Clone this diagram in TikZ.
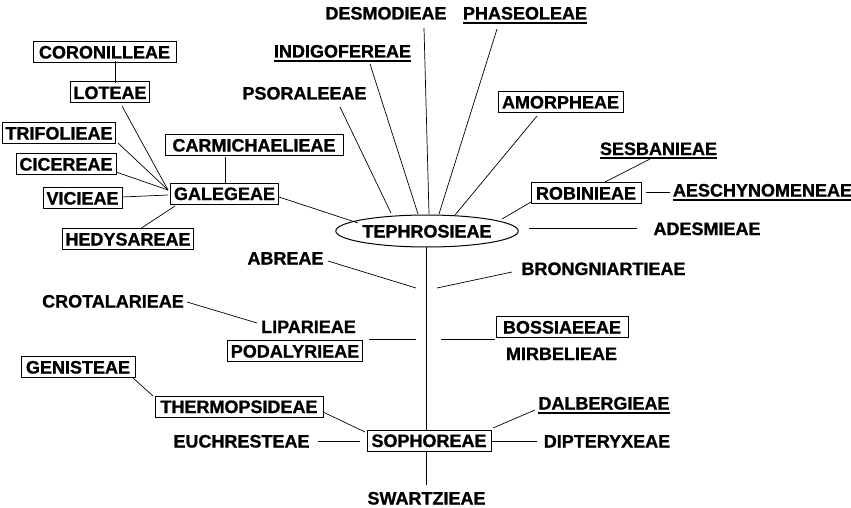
\documentclass[tikz,border=0pt]{standalone}
\usepackage{fontspec}
\setmainfont{Liberation Sans}[BoldFeatures={FakeBold=1}]
\usetikzlibrary{shapes.geometric}
\tikzset{
  lbl/.style={font=\fontsize{18}{21}\selectfont\bfseries, inner sep=0pt, text height=13pt, text depth=0pt},
  bx/.style={lbl, draw, line width=1pt, inner xsep=3pt, inner ysep=4pt},
  ell/.style={lbl, draw, ellipse, line width=1pt, minimum width=152pt, minimum height=32pt, inner sep=0pt},
  ln/.style={line width=0.7pt},
  ulbar/.style={line width=2pt}
}
\newcommand{\ulnode}[1]{\draw[ulbar] ([yshift=-3.2pt]#1.base west) -- ([yshift=-3.2pt]#1.base east);}
\begin{document}
\begin{tikzpicture}[x=1pt,y=-1pt]
\useasboundingbox (0,0) rectangle (851,508);
% top labels
\node[lbl] (desmo) at (386,13) {DESMODIEAE};
\node[lbl] (phase) at (525,13) {PHASEOLEAE}; \ulnode{phase}
\node[lbl] (indigo) at (342.5,51) {INDIGOFEREAE}; \ulnode{indigo}
\node[lbl] (psoral) at (304.5,93) {PSORALEEAE};
\node[bx, minimum width=125pt] (amorph) at (560.5,102) {AMORPHEAE};
% galegeae cluster
\node[bx, minimum width=143pt] (coron) at (104.5,52) {CORONILLEAE};
\node[bx, minimum width=78pt] (lotea) at (110,92.5) {LOTEAE};
\node[bx, minimum width=112pt] (trifo) at (59,133) {TRIFOLIEAE};
\node[bx, minimum width=178pt] (carmi) at (254,145) {CARMICHAELIEAE};
\node[bx, minimum width=100pt] (cicer) at (66,164) {CICEREAE};
\node[bx, minimum width=105pt] (galeg) at (224.5,193.5) {GALEGEAE};
\node[bx, minimum width=79pt] (vicie) at (82.5,198) {VICIEAE};
\node[bx, minimum width=128pt] (hedys) at (128,239) {HEDYSAREAE};
% right top
\node[lbl] (sesba) at (658.5,148.5) {SESBANIEAE}; \ulnode{sesba}
\node[bx, minimum width=110pt] (robin) at (586,193) {ROBINIEAE};
\node[lbl] (aesch) at (762.5,190) {AESCHYNOMENEAE}; \ulnode{aesch}
\node[ell] (teph) at (427,231) {TEPHROSIEAE};
\node[lbl] (adesm) at (707,228.5) {ADESMIEAE};
% middle
\node[lbl] (abrea) at (285.5,258) {ABREAE};
\node[lbl] (brong) at (603.5,268.5) {BRONGNIARTIEAE};
\node[lbl] (crota) at (113,301) {CROTALARIEAE};
\node[lbl] (lipar) at (308.5,326.5) {LIPARIEAE};
\node[bx, minimum width=132pt] (podal) at (295,351) {PODALYRIEAE};
\node[bx, minimum width=132pt] (bossi) at (562,327) {BOSSIAEEAE};
\node[lbl] (mirbe) at (561.5,353.5) {MIRBELIEAE};
% bottom
\node[bx, minimum width=114pt] (genis) at (78,367) {GENISTEAE};
\node[bx, minimum width=168pt] (therm) at (239,406.5) {THERMOPSIDEAE};
\node[bx, minimum width=124pt] (sopho) at (429,440.5) {SOPHOREAE};
\node[lbl] (euchr) at (241.5,441) {EUCHRESTEAE};
\node[lbl] (dalbe) at (604,403) {DALBERGIEAE}; \ulnode{dalbe}
\node[lbl] (dipte) at (607,441) {DIPTERYXEAE};
\node[lbl] (swart) at (426.5,498) {SWARTZIEAE};
% connector end points
\coordinate (desmoE) at (424,28);
\coordinate (desmoT) at (429,214);
\coordinate (phaseE) at (497,29);
\coordinate (phaseT) at (439,214);
\coordinate (indigoE) at (370,64);
\coordinate (indigoT) at (418,214);
\coordinate (psoralE) at (340,107);
\coordinate (psoralT) at (391,213);
\coordinate (amorphE) at (537,116);
\coordinate (amorphT) at (455,215);
\coordinate (galegE) at (279,197);
\coordinate (galegT) at (358,223);
\coordinate (robinE) at (531,202);
\coordinate (robinT) at (502,219);
\coordinate (sesbaE) at (650,159);
\coordinate (robinS) at (605,182);
\coordinate (robinA) at (646,192);
\coordinate (aeschE) at (670,192);
\coordinate (adesmT) at (529,228);
\coordinate (adesmE) at (637,228);
\coordinate (hub) at (168,190);
\coordinate (coronB) at (115,61);
\coordinate (loteaT) at (115,83);
\coordinate (loteaB) at (122,106);
\coordinate (trifoB) at (118,143);
\coordinate (cicerB) at (116,172);
\coordinate (vicieB) at (122,197);
\coordinate (hedysB) at (140,229);
\coordinate (hubH) at (175,206);
\coordinate (carmiB) at (225,157);
\coordinate (galegTop) at (225,183);
\coordinate (stemTop) at (426,247);
\coordinate (stemBot) at (426,430);
\coordinate (abreaE) at (328,261);
\coordinate (abreaS) at (416,288);
\coordinate (brongE) at (512,272);
\coordinate (brongS) at (437,288);
\coordinate (crotaE) at (187,302);
\coordinate (liparE) at (257,323);
\coordinate (podalE) at (369,339);
\coordinate (podalS) at (416,339);
\coordinate (bossiS) at (441,339);
\coordinate (bossiE) at (495,339);
\coordinate (genisB) at (133,378);
\coordinate (thermT) at (153,396);
\coordinate (thermR) at (323,412);
\coordinate (sophoL) at (365,432);
\coordinate (euchrE) at (318,441);
\coordinate (sophoW) at (360,441);
\coordinate (sophoE) at (492,441);
\coordinate (dipteE) at (537,441);
\coordinate (dalbeE) at (535,410);
\coordinate (sophoNE) at (493,428);
\coordinate (sophoB) at (426,451);
\coordinate (swartE) at (426,485);
% connectors
\draw[ln] (desmoE) -- (desmoT);
\draw[ln] (phaseE) -- (phaseT);
\draw[ln] (indigoE) -- (indigoT);
\draw[ln] (psoralE) -- (psoralT);
\draw[ln] (amorphE) -- (amorphT);
\draw[ln] (galegE) -- (galegT);
\draw[ln] (robinE) -- (robinT);
\draw[ln] (sesbaE) -- (robinS);
\draw[ln] (robinA) -- (aeschE);
\draw[ln] (adesmT) -- (adesmE);
\draw[ln] (coronB) -- (loteaT);
\draw[ln] (loteaB) -- (hub);
\draw[ln] (trifoB) -- (hub);
\draw[ln] (cicerB) -- (hub);
\draw[ln] (vicieB) -- ([yshift=-5pt]hub);
\draw[ln] (hedysB) -- (hubH);
\draw[ln] (carmiB) -- (galegTop);
\draw[ln] (stemTop) -- (stemBot);
\draw[ln] (abreaE) -- (abreaS);
\draw[ln] (brongE) -- (brongS);
\draw[ln] (crotaE) -- (liparE);
\draw[ln] (podalE) -- (podalS);
\draw[ln] (bossiS) -- (bossiE);
\draw[ln] (genisB) -- (thermT);
\draw[ln] (thermR) -- (sophoL);
\draw[ln] (euchrE) -- (sophoW);
\draw[ln] (sophoE) -- (dipteE);
\draw[ln] (dalbeE) -- (sophoNE);
\draw[ln] (sophoB) -- (swartE);
\end{tikzpicture}
\end{document}
